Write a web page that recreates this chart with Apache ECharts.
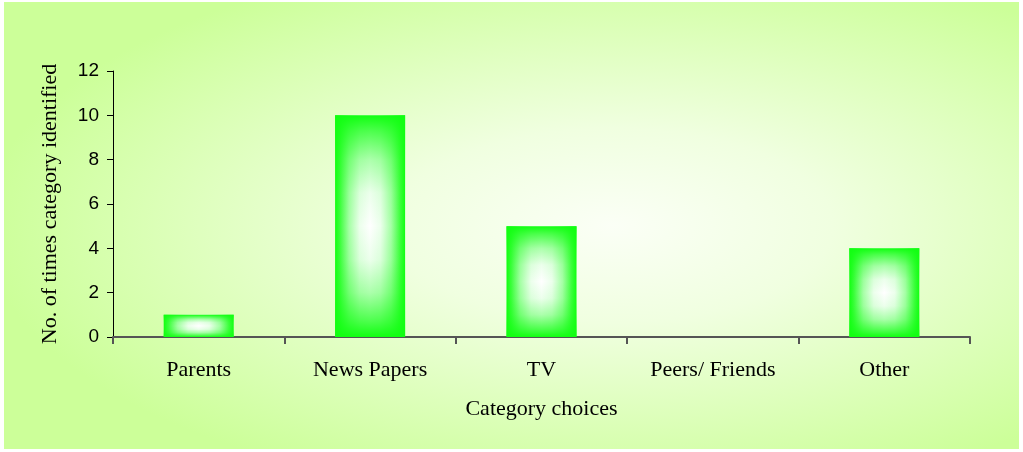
<!DOCTYPE html>
<html>
<head>
<meta charset="utf-8">
<script src="https://cdn.jsdelivr.net/npm/echarts@6/dist/echarts.min.js"></script>
<style>
	html, body { margin: 0; padding: 0; background: #fff; }
	#chart { width: 1023px; height: 452px; }
</style>
</head>
<body>
<div id="chart"></div>
<script>
// 数据
var categories = ['Parents', 'News Papers', 'TV', 'Peers/ Friends', 'Other'];
var counts = [1, 10, 5, 0, 4];
var yTicks = [0, 2, 4, 6, 8, 10, 12];

var myChart = echarts.init(document.getElementById('chart'));
var option;

var serif = '"Liberation Serif", "DejaVu Serif", serif';
var sans = '"Liberation Sans", Arial, sans-serif';
var green = '#11ff11';

option = {
	animation: false,
	// 背景
	graphic: [
		{
			type: 'rect',
			z: -100,
			x: 4,
			y: 2,
			scaleY: 447 / 1015,
			shape: { x: 0, y: 0, width: 1015, height: 1015 },
			silent: true,
			style: {
				fill: {
					type: 'radial',
					x: 0.6,
					y: 0.5,
					r: 0.62,
					colorStops: [
						{ offset: 0, color: '#fbfff6' },
						{ offset: 0.35, color: '#f0ffe0' },
						{ offset: 1, color: '#ccff99' }
					]
				}
			}
		}
	],
	grid: {
		left: 113,
		right: 53,
		top: 71,
		bottom: 115
	},
	xAxis: {
		type: 'category',
		data: categories,
		name: 'Category choices',
		nameLocation: 'middle',
		nameGap: 61,
		nameTextStyle: { fontFamily: serif, fontSize: 22, color: '#000' },
		axisLine: { lineStyle: { color: '#555', width: 2 } },
		axisTick: { show: true, inside: false, length: 7, lineStyle: { color: '#555', width: 2 } },
		axisLabel: { fontFamily: serif, fontSize: 22, color: '#000', margin: 22 }
	},
	yAxis: {
		type: 'value',
		min: yTicks[0],
		max: yTicks[yTicks.length - 1],
		interval: 2,
		name: 'No. of times category identified',
		nameLocation: 'middle',
		nameGap: 52,
		nameTextStyle: {
			fontFamily: serif,
			fontSize: 22,
			color: '#000'
		},
		splitLine: { show: false },
		axisLine: { show: true, lineStyle: { color: '#000', width: 1 } },
		axisTick: { show: true, length: 6, lineStyle: { color: '#000' } },
		axisLabel: { fontFamily: sans, fontSize: 19, color: '#000', margin: 14 }
	},
	series: [
		{
			name: 'count',
			type: 'bar',
			data: counts,
			barWidth: 70,
			barGap: '-100%',
			silent: true,
			itemStyle: {
				color: {
					type: 'linear',
					x: 0, y: 0, x2: 1, y2: 0,
					colorStops: [
						{ offset: 0, color: green },
						{ offset: 0.07, color: '#3dff3d' },
						{ offset: 0.2, color: '#a6ffa6' },
						{ offset: 0.35, color: '#ecffec' },
						{ offset: 0.5, color: '#ffffff' },
						{ offset: 0.65, color: '#ecffec' },
						{ offset: 0.8, color: '#a6ffa6' },
						{ offset: 0.93, color: '#3dff3d' },
						{ offset: 1, color: green }
					]
				}
			}
		},
		{
			// 上下方向的渐变叠加，模拟矩形渐变
			name: 'count2',
			type: 'bar',
			data: counts,
			barWidth: 70,
			barGap: '-100%',
			silent: true,
			itemStyle: {
				color: {
					type: 'linear',
					x: 0, y: 0, x2: 0, y2: 1,
					colorStops: [
						{ offset: 0, color: 'rgba(17,255,17,1)' },
						{ offset: 0.07, color: 'rgba(17,255,17,0.75)' },
						{ offset: 0.2, color: 'rgba(17,255,17,0.35)' },
						{ offset: 0.35, color: 'rgba(17,255,17,0.08)' },
						{ offset: 0.5, color: 'rgba(17,255,17,0)' },
						{ offset: 0.65, color: 'rgba(17,255,17,0.08)' },
						{ offset: 0.8, color: 'rgba(17,255,17,0.35)' },
						{ offset: 0.93, color: 'rgba(17,255,17,0.75)' },
						{ offset: 1, color: 'rgba(17,255,17,1)' }
					]
				}
			}
		}
	]
};

option && myChart.setOption(option);
</script>
</body>
</html>
